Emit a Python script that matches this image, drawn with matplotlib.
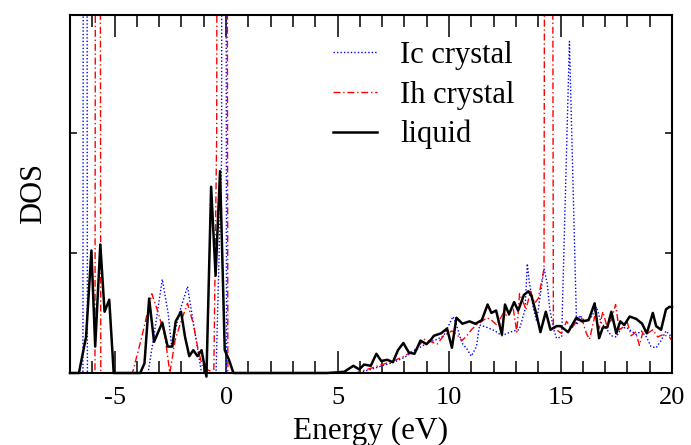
import matplotlib
matplotlib.use("Agg")
import matplotlib.pyplot as plt

plt.rcParams['font.family'] = ['Liberation Serif', 'DejaVu Serif']
plt.rcParams['axes.unicode_minus'] = False

# liquid DOS (black solid)
e_liquid = [-7.0, -6.6, -6.28, -6.04, -5.87, -5.64, -5.45, -5.24, -5.04,
            -3.85, -3.66, -3.45, -3.23, -2.86, -2.62, -2.41, -2.26, -2.02, -1.84,
            -1.65, -1.47, -1.28, -1.10, -0.88, -0.67, -0.47, -0.27, -0.06, 0.13, 0.33,
            4.55, 5.3, 5.71, 5.97, 6.19, 6.49, 6.74, 6.96, 7.23, 7.48, 7.71, 7.95,
            8.2, 8.45, 8.72, 8.99, 9.2, 9.32, 9.64, 9.91, 10.13, 10.33, 10.6, 10.92,
            11.18, 11.47, 11.73, 11.9, 12.11, 12.37, 12.51, 12.69, 12.92, 13.1, 13.36,
            13.56, 13.7, 13.93, 14.1, 14.34, 14.55, 14.82, 15.0, 15.34, 15.71, 15.96,
            16.26, 16.53, 16.73, 16.9, 17.1, 17.28, 17.5, 17.68, 17.86, 18.1, 18.4,
            18.66, 18.87, 19.14, 19.29, 19.51, 19.73, 19.88, 20.0]
dos_liquid = [0, 0, 0.30, 1.02, 0.22, 1.07, 0.51, 0.61, 0,
              0, 0.08, 0.62, 0.26, 0.42, 0.22, 0.22, 0.43, 0.51, 0.30,
              0.14, 0.19, 0.14, 0.19, -0.03, 1.55, 0.81, 1.68, 0.19, 0.11, 0,
              0, 0.01, 0.06, 0.03, 0.07, 0.06, 0.16, 0.10, 0.11, 0.09, 0.19, 0.25,
              0.17, 0.16, 0.27, 0.24, 0.28, 0.31, 0.33, 0.37, 0.21, 0.46, 0.41, 0.43,
              0.41, 0.44, 0.57, 0.50, 0.52, 0.32, 0.57, 0.49, 0.59, 0.52, 0.65,
              0.68, 0.64, 0.48, 0.34, 0.51, 0.36, 0.39, 0.39, 0.34, 0.46, 0.43,
              0.44, 0.58, 0.29, 0.38, 0.38, 0.51, 0.33, 0.43, 0.40, 0.47, 0.45,
              0.41, 0.33, 0.50, 0.39, 0.36, 0.53, 0.55, 0.55]

# Ic crystal (blue dotted)
e_ic = [-7.0, -6.42, -6.32, -6.22, -3.5, -3.26, -2.86, -2.6, -2.44, -2.1, -1.73,
        -1.47, -1.1, -0.45, -0.2, -0.1, 0.02, 5.9, 6.5, 7.0, 7.53, 8.0, 8.4, 9.02,
        9.46, 9.76, 10.18, 10.33, 10.58, 10.8, 11.0, 11.23, 11.37, 11.7, 12.07,
        12.37, 12.6, 12.9, 13.15, 13.41, 13.51, 13.6, 13.78, 13.93, 14.1, 14.26,
        14.4, 14.52, 14.7, 14.82, 15.05, 15.4, 15.72, 15.86, 16.1, 16.4, 16.61,
        16.82, 17.05, 17.28, 17.5, 17.72, 17.95, 18.17, 18.4, 18.62, 18.85, 19.06,
        19.29, 19.51, 19.73, 19.88, 20.0]
dos_ic = [0, 0, 25, 0, 0, 0.28, 0.78, 0.5, 0.22, 0.5, 0.72,
          0.42, 0, 0, 1.8, 25, 0, 0, 0.03, 0.06, 0.09, 0.13, 0.18, 0.25,
          0.28, 0.31, 0.47, 0.40, 0.25, 0.20, 0.14, 0.22, 0.40, 0.38, 0.35,
          0.31, 0.33, 0.35, 0.36, 0.53, 0.91, 0.76, 0.54, 0.43, 0.66, 0.87,
          0.75, 0.53, 0.36, 0.29, 0.30, 2.76, 0.40, 0.48, 0.43, 0.47, 0.55,
          0.42, 0.37, 0.31, 0.30, 0.37, 0.38, 0.35, 0.32, 0.35, 0.30, 0.22,
          0.21, 0.27, 0.35, 0.32, 0.30]

# Ih crystal (red dash-dot)
e_ih = [-7.0, -5.88, -5.75, -5.62, -4.2, -3.78, -3.33, -3.04, -2.74, -2.52, -2.29,
        -2.0, -1.73, -1.47, -1.25, -1.05, -0.55, -0.42, -0.3, -0.2, -0.1, 0.08,
        5.8, 6.5, 7.0, 7.5, 8.0, 8.5, 8.9, 9.2, 9.46, 9.76, 10.13, 10.35, 10.58,
        10.8, 11.0, 11.23, 11.47, 11.7, 11.9, 12.14, 12.44, 12.65, 12.86, 13.04,
        13.16, 13.3, 13.45, 13.66, 13.84, 14.0, 14.15, 14.26, 14.46, 14.68, 14.82,
        15.04, 15.27, 15.5, 15.71, 15.94, 16.16, 16.3, 16.53, 16.73, 16.9, 17.08,
        17.28, 17.47, 17.63, 17.8, 17.98, 18.17, 18.37, 18.54, 18.72, 18.9, 19.14,
        19.36, 19.6, 19.88, 20.0]
dos_ih = [0, 0, 25, 0, 0, 0.30, 0.66, 0.50, 0.30, 0, 0.27,
          0.44, 0.58, 0.41, 0.19, 0.05, 0, 2.0, 25, 5, 25, 0,
          0, 0.04, 0.07, 0.10, 0.14, 0.20, 0.28, 0.26, 0.24, 0.31, 0.35, 0.32, 0.27,
          0.31, 0.36, 0.40, 0.43, 0.46, 0.44, 0.40, 0.50, 0.47, 0.56, 0.34,
          0.66, 0.60, 0.53, 0.68, 0.58, 0.62, 0.76, 0.87, 25, 0.38, 0.36,
          0.33, 0.43, 0.37, 0.43, 0.46, 0.33, 0.28, 0.47, 0.37, 0.51, 0.39,
          0.44, 0.57, 0.36, 0.38, 0.43, 0.31, 0.34, 0.23, 0.36, 0.33, 0.36,
          0.30, 0.32, 0.30, 0.27]

fig = plt.figure(figsize=(6.91, 4.45), dpi=100)
ax = fig.add_axes([0.1013, 0.1618, 0.8712, 0.8045])

ax.plot(e_ic, dos_ic, color='blue', linestyle=(0, (1, 1.5)), linewidth=1.0, label='Ic crystal')
ax.plot(e_ih, dos_ih, color='red', linestyle=(0, (5, 2, 1, 2)), linewidth=1.0, label='Ih crystal')
ax.plot(e_liquid, dos_liquid, color='black', linestyle='-', linewidth=1.8, label='liquid',
        clip_on=False)

ax.set_xlim(-7, 20)
ax.set_ylim(0, 2.98)
ax.set_xticks([-5, 0, 5, 10, 15, 20])
ax.set_xticks(range(-6, 20), minor=True)
ax.set_yticks([0, 1, 2])
ax.set_yticklabels([])
ax.tick_params(axis='x', which='major', direction='in', top=True, length=16, width=1.1,
               labelsize=19, pad=10)
ax.tick_params(axis='x', which='minor', direction='in', top=True, length=8.5, width=1.1)
ax.tick_params(axis='y', which='major', direction='in', right=True, length=5, width=1.1)
for s in ax.spines.values():
    s.set_linewidth(1.5)

ax.set_xlabel('Energy (eV)', fontsize=22.5, labelpad=6)
ax.set_ylabel('DOS', fontsize=22, labelpad=12)

ax.legend(loc='upper left', bbox_to_anchor=(0.437, 0.927), frameon=False, fontsize=22,
          handlelength=1.45, handletextpad=0.75, labelspacing=0.34, borderpad=0,
          borderaxespad=0)

plt.savefig('out.png', dpi=100)
